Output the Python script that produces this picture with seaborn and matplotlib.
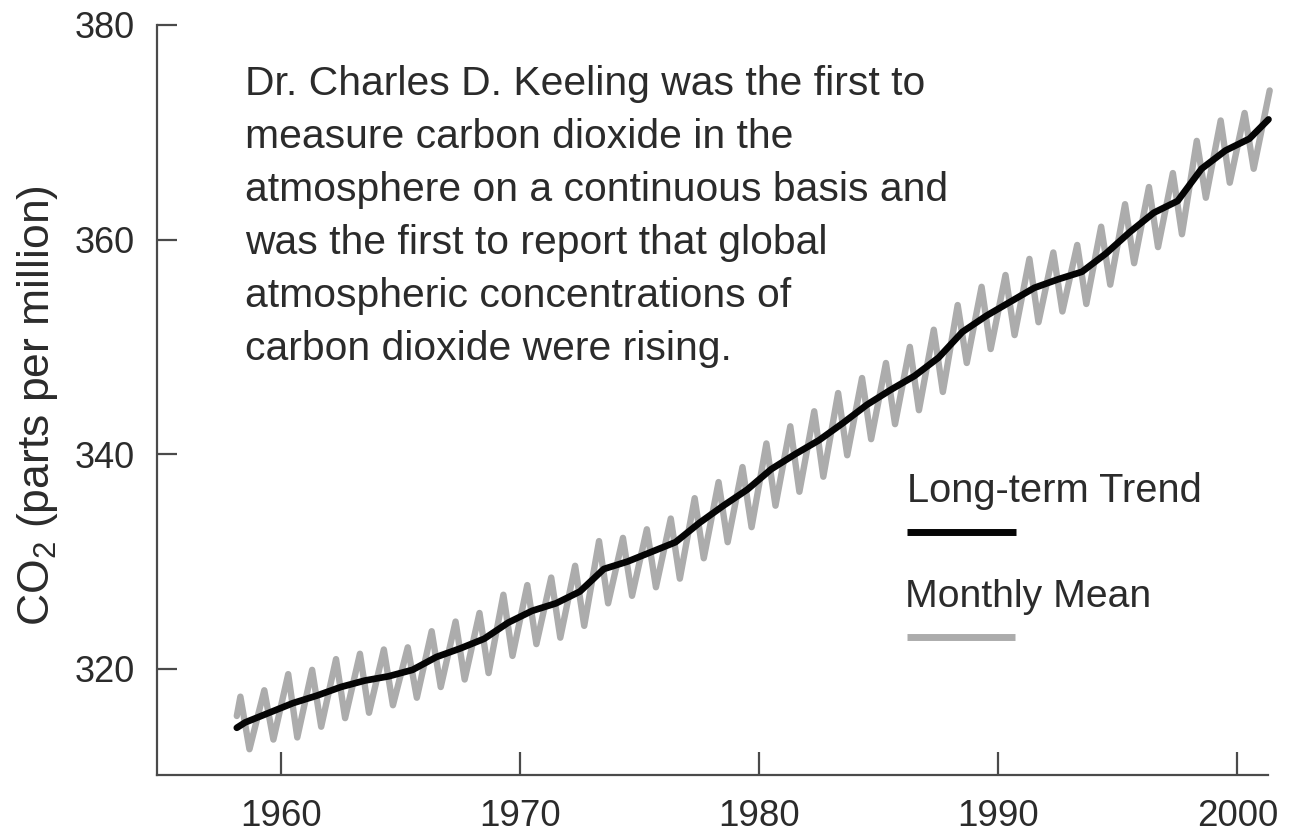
import matplotlib
matplotlib.use("Agg")
import matplotlib.pyplot as plt
from matplotlib.lines import Line2D
import seaborn as sns
import pandas as pd

# ---------------- data ----------------
trend_years = [1958.15, 1958.5, 1959.5, 1960.5, 1961.5, 1962.5, 1963.5, 1964.5,
               1965.5, 1966.5, 1967.5, 1968.5, 1969.5, 1970.5, 1971.5, 1972.5,
               1973.5, 1974.5, 1975.5, 1976.5, 1977.5, 1978.5, 1979.5, 1980.5,
               1981.5, 1982.5, 1983.5, 1984.5, 1985.5, 1986.5, 1987.5, 1988.5,
               1989.5, 1990.5, 1991.5, 1992.5, 1993.5, 1994.5, 1995.5, 1996.5,
               1997.5, 1998.5, 1999.5, 2000.5, 2001.3]
trend_ppm = [314.5, 315.0, 315.9, 316.8, 317.5, 318.3, 318.9, 319.3,
             319.9, 321.1, 321.9, 322.8, 324.3, 325.4, 326.1, 327.2,
             329.3, 330.0, 330.9, 331.8, 333.6, 335.2, 336.7, 338.6,
             340.0, 341.3, 342.9, 344.6, 346.0, 347.3, 349.0, 351.4,
             352.9, 354.2, 355.5, 356.3, 357.0, 358.7, 360.7, 362.5,
             363.6, 366.6, 368.3, 369.4, 371.2]

# monthly mean: seasonal maxima (spring) and minima (autumn) per year
monthly_start_year = 1958.15
monthly_start_ppm = 315.6
peak_years = [1958.3, 1959.3, 1960.3, 1961.3, 1962.3, 1963.3, 1964.3, 1965.3,
              1966.3, 1967.3, 1968.3, 1969.3, 1970.3, 1971.3, 1972.3, 1973.3,
              1974.3, 1975.3, 1976.3, 1977.3, 1978.3, 1979.3, 1980.3, 1981.3,
              1982.3, 1983.3, 1984.3, 1985.3, 1986.3, 1987.3, 1988.3, 1989.3,
              1990.3, 1991.3, 1992.3, 1993.3, 1994.3, 1995.3, 1996.3, 1997.3,
              1998.3, 1999.3, 2000.3, 2001.35]
peak_ppm = [317.4, 318.0, 319.5, 319.9, 320.9, 321.4, 321.8, 322.0,
            323.5, 324.4, 325.2, 326.9, 327.8, 328.5, 329.6, 331.9,
            332.2, 333.0, 334.0, 335.9, 337.4, 338.8, 341.0, 342.6,
            344.0, 345.7, 347.1, 348.5, 350.0, 351.6, 353.9, 355.6,
            356.7, 358.2, 358.8, 359.5, 361.2, 363.3, 364.9, 366.2,
            369.2, 371.1, 371.8, 373.9]
trough_years = [1958.68, 1959.68, 1960.68, 1961.68, 1962.68, 1963.68, 1964.68,
                1965.68, 1966.68, 1967.68, 1968.68, 1969.68, 1970.68, 1971.68,
                1972.68, 1973.68, 1974.68, 1975.68, 1976.68, 1977.68, 1978.68,
                1979.68, 1980.68, 1981.68, 1982.68, 1983.68, 1984.68, 1985.68,
                1986.68, 1987.68, 1988.68, 1989.68, 1990.68, 1991.68, 1992.68,
                1993.68, 1994.68, 1995.68, 1996.68, 1997.68, 1998.68, 1999.68,
                2000.68]
trough_ppm = [312.5, 313.4, 313.6, 314.6, 315.4, 315.9, 316.6,
              317.3, 318.3, 319.0, 319.6, 321.2, 322.3, 322.9,
              324.0, 326.1, 326.8, 327.6, 328.4, 330.3, 331.8,
              333.2, 335.2, 336.5, 337.9, 339.9, 341.4, 342.8,
              344.1, 345.8, 348.5, 349.8, 351.1, 352.3, 353.3,
              354.0, 355.8, 357.8, 359.3, 360.5, 363.9, 365.3,
              366.6]

x_ticks = [1960, 1970, 1980, 1990, 2000]
y_ticks = [320, 340, 360, 380]

note_lines = ["Dr. Charles D. Keeling was the first to",
              "measure carbon dioxide in the",
              "atmosphere on a continuous basis and",
              "was the first to report that global",
              "atmospheric concentrations of",
              "carbon dioxide were rising."]
legend_labels = ["Long-term Trend", "Monthly Mean"]
y_label = "CO$_2$ (parts per million)"

# ---------------- tables ----------------
trend_df = pd.DataFrame({"year": trend_years, "ppm": trend_ppm})
monthly_df = pd.DataFrame({
    "year": [monthly_start_year] + peak_years + trough_years,
    "ppm": [monthly_start_ppm] + peak_ppm + trough_ppm,
}).sort_values("year")

# ---------------- style ----------------
sns.set_theme(style="white")
plt.rcParams["font.family"] = ["Liberation Sans", "DejaVu Sans"]
plt.rcParams["mathtext.default"] = "regular"

W, H = 1301, 833
fig = plt.figure(figsize=(W / 100, H / 100), dpi=100)
fig.patch.set_facecolor("white")
ax = fig.add_axes([156.7 / W, 1 - 775 / H, (1268.5 - 156.7) / W, 750 / H])
ax.set_facecolor("white")

GRAY = "#acacac"
BLACK = "#050505"
AXC = "#4a4a4a"
TXT = "#2b2b2b"

sns.lineplot(data=monthly_df, x="year", y="ppm", ax=ax, color=GRAY, lw=4.6,
             estimator=None, sort=False, legend=False)
sns.lineplot(data=trend_df, x="year", y="ppm", ax=ax, color=BLACK, lw=4.8,
             estimator=None, sort=False, legend=False)
for ln in ax.lines:
    ln.set_solid_joinstyle("round")
    ln.set_solid_capstyle("round")
    ln.set_clip_on(False)

ax.set_xlim(1954.8, 2001.3)
ax.set_ylim(310.1, 380)
ax.set_xticks(x_ticks)
ax.set_yticks(y_ticks)
ax.set_xticklabels([str(v) for v in x_ticks])
ax.set_yticklabels([str(v) for v in y_ticks])
ax.set_xlabel("")
ax.set_ylabel(y_label, fontsize=32, color=TXT)
ax.yaxis.set_label_coords(-0.087, 0.492)

for s in ["top", "right"]:
    ax.spines[s].set_visible(False)
for s in ["left", "bottom"]:
    ax.spines[s].set_color(AXC)
    ax.spines[s].set_linewidth(1.6)
ax.tick_params(axis="y", direction="in", length=14.4, width=1.6, color=AXC,
               pad=16, labelsize=26, labelcolor=TXT, left=True)
ax.tick_params(axis="x", direction="in", length=16.5, width=1.6, color=AXC,
               pad=17, labelsize=26.5, labelcolor=TXT, bottom=True)
ax.grid(False)

# annotation
for i, line in enumerate(note_lines):
    fig.text(245 / W, 1 - (95 + 53 * i) / H, line, fontsize=29.4,
             color=TXT, ha="left", va="baseline")

# legend (manual)
fig.text(907 / W, 1 - 502 / H, legend_labels[0], fontsize=28.7, color=TXT,
         ha="left", va="baseline")
fig.add_artist(Line2D([907 / W, 1016 / W], [1 - 531.5 / H] * 2,
                      transform=fig.transFigure, color=BLACK, lw=5,
                      solid_capstyle="butt"))
fig.text(905 / W, 1 - 607 / H, legend_labels[1], fontsize=28.2, color=TXT,
         ha="left", va="baseline")
fig.add_artist(Line2D([907 / W, 1015 / W], [1 - 636.5 / H] * 2,
                      transform=fig.transFigure, color=GRAY, lw=5,
                      solid_capstyle="butt"))

fig.savefig("out.png", dpi=100, facecolor="white")
